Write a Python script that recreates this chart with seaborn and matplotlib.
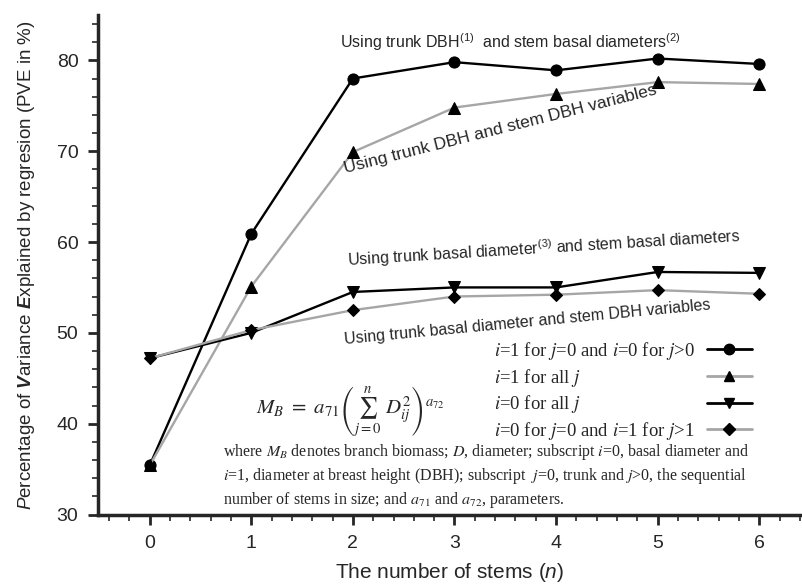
import numpy as np
import pandas as pd
import seaborn as sns
import matplotlib.pyplot as plt
from matplotlib.ticker import MultipleLocator
from matplotlib.lines import Line2D

# dados
stems = [0, 1, 2, 3, 4, 5, 6]
pve_dbh_basal = [35.4, 60.9, 78.0, 79.8, 78.9, 80.2, 79.6]
pve_dbh_dbh = [35.4, 55.1, 69.9, 74.8, 76.3, 77.6, 77.4]
pve_basal_basal = [47.2, 50.0, 54.5, 55.0, 55.0, 56.7, 56.6]
pve_basal_dbh = [47.2, 50.3, 52.5, 54.0, 54.2, 54.7, 54.3]

rotulos = [r"$i$=1 for $j$=0 and $i$=0 for $j$>0",
           r"$i$=1 for all $j$",
           r"$i$=0 for all $j$",
           r"$i$=0 for $j$=0 and $i$=1 for $j$>1"]
series = [pve_dbh_basal, pve_dbh_dbh, pve_basal_basal, pve_basal_dbh]
cores = ["black", "#a6a6a6", "black", "#a6a6a6"]
marcadores = ["o", "^", "v", "D"]
tamanhos = [8, 8, 8, 6.5]

dados = pd.DataFrame({
    "n": stems * 4,
    "pve": sum(series, []),
    "serie": [r for r in rotulos for _ in stems],
})

sns.set_style("ticks")
plt.rcParams["font.family"] = ["Liberation Sans", "DejaVu Sans"]
plt.rcParams["mathtext.fontset"] = "custom"
plt.rcParams["mathtext.rm"] = "Liberation Sans"
plt.rcParams["mathtext.it"] = "Liberation Sans:italic"
plt.rcParams["mathtext.bf"] = "Liberation Sans:bold"
plt.rcParams["mathtext.bfit"] = "Liberation Sans:italic:bold"

fig = plt.figure(figsize=(8.02, 5.85), dpi=100)
ax = fig.add_axes([0.122, 0.1205, 0.878, 0.854])

for rot, cor, mk, ms in zip(rotulos, cores, marcadores, tamanhos):
    sub = dados[dados["serie"] == rot]
    sns.lineplot(data=sub, x="n", y="pve", color=cor, marker=mk, markersize=ms,
                 markeredgecolor="black", markerfacecolor="black", linewidth=1.7,
                 ax=ax, legend=False, zorder=3)

ax.set_xlim(-0.51, 6.42)
ax.set_ylim(30, 85)
ax.xaxis.set_major_locator(MultipleLocator(1))
ax.xaxis.set_minor_locator(MultipleLocator(0.2))
ax.yaxis.set_major_locator(MultipleLocator(10))
ax.yaxis.set_minor_locator(MultipleLocator(2))
ax.tick_params(which="major", length=7, width=2, labelsize=14, direction="out")
ax.tick_params(which="minor", length=4, width=1.2, direction="out")
ax.tick_params(axis="x", which="major", pad=8)
ax.tick_params(axis="y", which="major", pad=7)
for lado in ["top", "right"]:
    ax.spines[lado].set_visible(False)
for lado in ["left", "bottom"]:
    ax.spines[lado].set_linewidth(2.5)

ax.set_xlabel(r"The number of stems ($n$)", fontsize=15, labelpad=6)
ax.set_ylabel(r"$\mathit{P}$ercentage of $\mathbfit{V}$ariance $\mathbfit{E}$xplained by regresion (PVE in %)",
              fontsize=13.5, labelpad=14)

# anotacoes das curvas
ax.text(3.55, 82.0, r"Using trunk DBH$^{(1)}$  and stem basal diameters$^{(2)}$",
        fontsize=11.5, ha="center", va="center")
ax.text(3.45, 72.4, "Using trunk DBH and stem DBH variables",
        fontsize=12.5, ha="center", va="center", rotation=14.2)
ax.text(3.88, 59.3, r"Using trunk basal diameter$^{(3)}$ and stem basal diameters",
        fontsize=11.5, ha="center", va="center", rotation=3.5)
ax.text(3.72, 51.2, "Using trunk basal diameter and stem DBH variables",
        fontsize=11.5, ha="center", va="center", rotation=5.4)

# equacao e nota
eq = ax.text(1.98, 41.2, r"$M_B\ =\ a_{71}\left(\sum_{j=0}^{n}\ D_{ij}^{2}\right)^{a_{72}}$",
             fontsize=15, ha="center", va="center")
eq.set_math_fontfamily("stix")
nota = ("where $M_B$ denotes branch biomass; $D$, diameter; subscript $i$=0, basal diameter and\n"
        "$i$=1, diameter at breast height (DBH); subscript  $j$=0, trunk and $j$>0, the sequential\n"
        "number of stems in size; and $a_{71}$ and $a_{72}$, parameters.")
t = ax.text(0.72, 34.25, nota, fontsize=11.5, family="Liberation Serif",
            ha="left", va="center", linespacing=1.3)
t.set_math_fontfamily("stix")

# legenda: textos alinhados a esquerda e amostras alinhadas a direita
alcas = [Line2D([], [], color=c, marker=m, markersize=s - 0.5, markerfacecolor="black",
                markeredgecolor="black", linewidth=2)
         for c, m, s in zip(cores, marcadores, tamanhos)]
vazias = [Line2D([], [], color="none") for _ in rotulos]
estilo = dict(frameon=False, labelspacing=0.25, borderpad=0,
              prop={"family": "Liberation Serif", "size": 13.5},
              bbox_transform=ax.transData)
leg_txt = ax.legend(vazias, rotulos, loc="center left", bbox_to_anchor=(3.30, 43.6),
                    handlelength=0, handletextpad=0, **estilo)
for txt in leg_txt.get_texts():
    txt.set_math_fontfamily("stix")
ax.add_artist(leg_txt)
leg_mk = ax.legend(alcas, rotulos, loc="center right", bbox_to_anchor=(6.02, 43.6),
                   markerfirst=False, handlelength=2.4, handletextpad=0.6, **estilo)
for txt in leg_mk.get_texts():
    txt.set_math_fontfamily("stix")
    txt.set_color("none")

fig.savefig("out.png", dpi=100)
